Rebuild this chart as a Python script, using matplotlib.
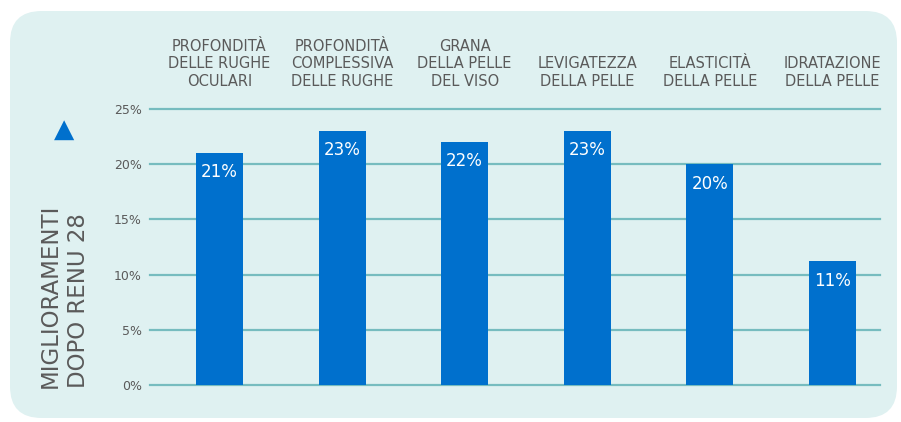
import matplotlib
matplotlib.use("Agg")
import matplotlib.pyplot as plt
from matplotlib.patches import FancyBboxPatch

CATEGORIES = ["PROFONDITÀ\nDELLE RUGHE\nOCULARI",
              "PROFONDITÀ\nCOMPLESSIVA\nDELLE RUGHE",
              "GRANA\nDELLA PELLE\nDEL VISO",
              "LEVIGATEZZA\nDELLA PELLE",
              "ELASTICITÀ\nDELLA PELLE",
              "IDRATAZIONE\nDELLA PELLE"]
VALUES = [21, 23, 22, 23, 20, 11.2]
VALUE_LABELS = ["21%", "23%", "22%", "23%", "20%", "11%"]
YTICKS = [0, 5, 10, 15, 20, 25]
YTICK_LABELS = ["0%", "5%", "10%", "15%", "20%", "25%"]

BLUE = "#0070cd"
BG = "#dff1f1"
GRID = "#76bcbf"
TEXT = "#5a5a5a"

W, H = 901, 422
fig = plt.figure(figsize=(W / 100, H / 100), dpi=100)
fig.patch.set_facecolor("white")

# rounded background panel
panel = FancyBboxPatch((10 / W, 4 / H), 887 / W, 407 / H,
                       boxstyle="round,pad=0,rounding_size=0.035",
                       transform=fig.transFigure, facecolor=BG,
                       edgecolor="none", mutation_aspect=W / H, zorder=-5)
fig.patches.append(panel)

ax = fig.add_axes([150 / W, (H - 385) / H, 730 / W, 276 / H], zorder=2)
ax.set_facecolor("none")
x = list(range(len(VALUES)))
ax.bar(x, VALUES, width=0.383, color=BLUE, zorder=3)
ax.set_xlim(-0.566, 5.387)
ax.set_ylim(0, 25)

for yv in YTICKS:
    ax.axhline(yv, color=GRID, lw=1.6, zorder=1, clip_on=False)

for sp in ax.spines.values():
    sp.set_visible(False)
ax.set_xticks([])
ax.set_yticks(YTICKS)
ax.set_yticklabels(YTICK_LABELS, color=TEXT, fontsize=9)
ax.tick_params(axis="y", length=0, pad=6)

for xi, v, lab in zip(x, VALUES, VALUE_LABELS):
    ax.text(xi, v - 1.75, lab, ha="center", va="center", color="white",
            fontsize=12, zorder=4)

for xi, cat in zip(x, CATEGORIES):
    ax.text(xi, 26.8, cat, ha="center", va="bottom", color=TEXT,
            fontsize=10.5, linespacing=1.22, multialignment="center",
            clip_on=False)

fig.text(64 / W, 1 - 296 / H, "MIGLIORAMENTI\nDOPO RENU 28", rotation=90,
         ha="center", va="center", color=TEXT, fontsize=16.5,
         linespacing=1.3, multialignment="left")

fig.text(64 / W, 1 - 130 / H, "▲", ha="center", va="center", color=BLUE,
         fontsize=19)

fig.savefig("out.png", dpi=100)
